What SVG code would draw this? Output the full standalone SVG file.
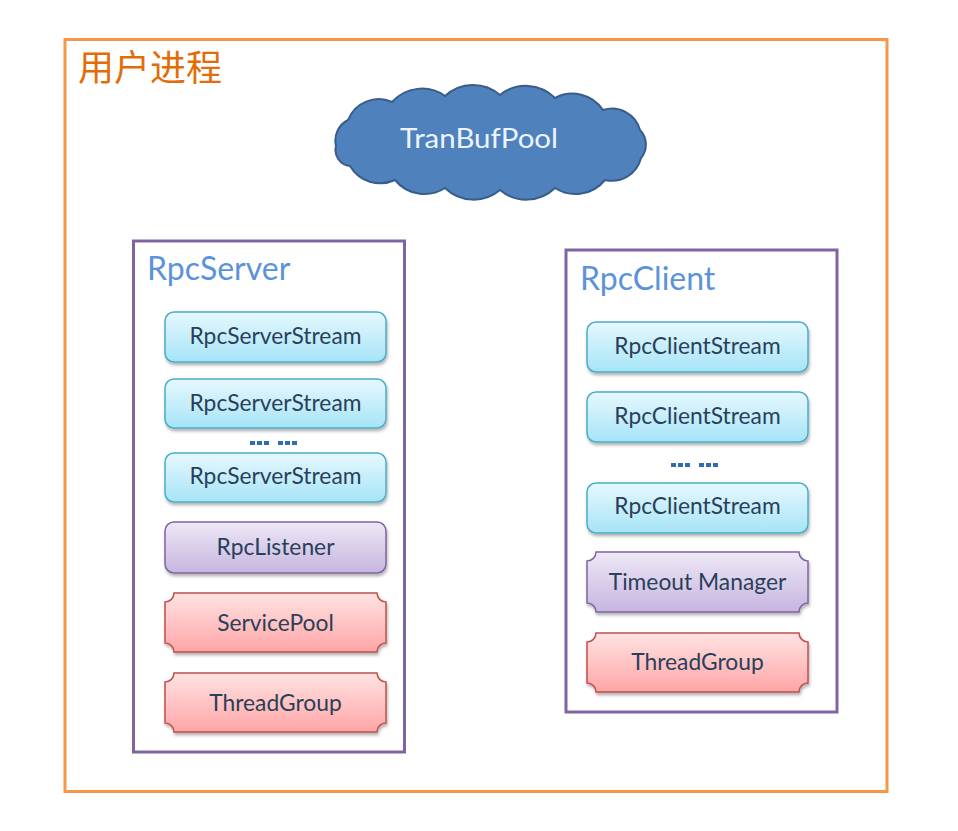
<svg xmlns="http://www.w3.org/2000/svg" width="958" height="831" viewBox="0 0 958 831">
<defs>
<linearGradient id="gCyan" x1="0" y1="0" x2="0" y2="1"><stop offset="0" stop-color="#E6F8FE"/><stop offset="1" stop-color="#A6E4F7"/></linearGradient>
<linearGradient id="gPurple" x1="0" y1="0" x2="0" y2="1"><stop offset="0" stop-color="#EEE8F6"/><stop offset="1" stop-color="#C6B5DF"/></linearGradient>
<linearGradient id="gRed" x1="0" y1="0" x2="0" y2="1"><stop offset="0" stop-color="#FFE3E3"/><stop offset="1" stop-color="#FFA5A5"/></linearGradient>
<filter id="sh" x="-10%" y="-20%" width="120%" height="150%"><feDropShadow dx="1" dy="2.5" stdDeviation="1.5" flood-color="#000" flood-opacity="0.3"/></filter>
</defs>
<style>
.item{font-family:Lato,"Open Sans",sans-serif;font-size:22.8px;fill:#2A3F5A;text-anchor:middle}
.cyan{fill:url(#gCyan);stroke:#4BACC6;stroke-width:1.5}
.purple{fill:url(#gPurple);stroke:#8064A2;stroke-width:1.5}
.red{fill:url(#gRed);stroke:#C0504D;stroke-width:1.5}
.box{fill:#FFFFFF;stroke:#8064A2;stroke-width:3}
.lbl{font-family:Lato,"Open Sans",sans-serif;font-size:32px;fill:#5B93DB}
.dots{fill:#2E6DB4}
</style>
<rect width="958" height="831" fill="#FFFFFF"/>
<g id="process">
<rect x="65" y="39.5" width="822" height="752" fill="#FFFFFF" stroke="#F79646" stroke-width="3"/>
<text x="78" y="81" font-family="'Noto Sans CJK SC',sans-serif" font-size="36" fill="#E36C09">用户进程</text>
</g>
<g id="tranbufpool">
<path d="M336,146 A23,23 0 0 1 348,120 A33,33 0 0 1 392,102 A40,40 0 0 1 445,96 A41,41 0 0 1 500,95 A41,41 0 0 1 555,98 A37,37 0 0 1 603,110 A29,29 0 0 1 640,130 A21,21 0 0 1 641,158 A30,30 0 0 1 605,180 A38,38 0 0 1 555,188 A41,41 0 0 1 500,190 A41,41 0 0 1 445,188 A38,38 0 0 1 395,180 A35,35 0 0 1 350,166 A16,16 0 0 1 336,146 Z" fill="#4F81BD" stroke="#385D8A" stroke-width="2"/>
<text x="479" y="148" font-family="Lato,'Open Sans',sans-serif" font-size="27" fill="#EEF4FF" text-anchor="middle" textLength="158" lengthAdjust="spacingAndGlyphs">TranBufPool</text>
</g>
<g id="rpcserver">
<rect class="box" x="133.5" y="241" width="271" height="511"/>
<text class="lbl" x="147" y="280">RpcServer</text>
</g>
<g id="rpcserverstream1"><rect class="cyan" filter="url(#sh)" x="165" y="312" width="221" height="50" rx="9"/><text class="item" x="275.5" y="344">RpcServerStream</text></g>
<g id="rpcserverstream2"><rect class="cyan" filter="url(#sh)" x="165" y="379" width="221" height="49" rx="9"/><text class="item" x="275.5" y="411">RpcServerStream</text></g>
<g id="server-dots"><rect class="dots" x="250" y="441" width="5" height="4"/><rect class="dots" x="257" y="441" width="5" height="4"/><rect class="dots" x="264" y="441" width="5" height="4"/><rect class="dots" x="278" y="441" width="5" height="4"/><rect class="dots" x="285" y="441" width="5" height="4"/><rect class="dots" x="292" y="441" width="5" height="4"/></g>
<g id="rpcserverstream3"><rect class="cyan" filter="url(#sh)" x="165" y="453" width="221" height="49" rx="9"/><text class="item" x="275.5" y="484">RpcServerStream</text></g>
<g id="rpclistener"><rect class="purple" filter="url(#sh)" x="165" y="522" width="221" height="51" rx="9"/><text class="item" x="275.5" y="555">RpcListener</text></g>
<g id="servicepool"><path class="red" filter="url(#sh)" d="M174,593 L377,593 A9,9 0 0 0 386,602 L386,643 A9,9 0 0 0 377,652 L174,652 A9,9 0 0 0 165,643 L165,602 A9,9 0 0 0 174,593 Z"/><text class="item" x="275.5" y="631">ServicePool</text></g>
<g id="threadgroup-server"><path class="red" filter="url(#sh)" d="M174,673 L377,673 A9,9 0 0 0 386,682 L386,723 A9,9 0 0 0 377,732 L174,732 A9,9 0 0 0 165,723 L165,682 A9,9 0 0 0 174,673 Z"/><text class="item" x="275.5" y="711">ThreadGroup</text></g>
<g id="rpcclient">
<rect class="box" x="566" y="250" width="271" height="462"/>
<text class="lbl" x="580" y="290">RpcClient</text>
</g>
<g id="rpcclientstream1"><rect class="cyan" filter="url(#sh)" x="587" y="322" width="221" height="50" rx="9"/><text class="item" x="697.5" y="354">RpcClientStream</text></g>
<g id="rpcclientstream2"><rect class="cyan" filter="url(#sh)" x="587" y="392" width="221" height="50" rx="9"/><text class="item" x="697.5" y="424">RpcClientStream</text></g>
<g id="client-dots"><rect class="dots" x="671" y="463" width="5" height="4"/><rect class="dots" x="678" y="463" width="5" height="4"/><rect class="dots" x="685" y="463" width="5" height="4"/><rect class="dots" x="699" y="463" width="5" height="4"/><rect class="dots" x="706" y="463" width="5" height="4"/><rect class="dots" x="713" y="463" width="5" height="4"/></g>
<g id="rpcclientstream3"><rect class="cyan" filter="url(#sh)" x="587" y="483" width="221" height="50" rx="9"/><text class="item" x="697.5" y="514">RpcClientStream</text></g>
<g id="timeoutmanager"><path class="purple" filter="url(#sh)" d="M596,552 L799,552 A9,9 0 0 0 808,561 L808,603 A9,9 0 0 0 799,612 L596,612 A9,9 0 0 0 587,603 L587,561 A9,9 0 0 0 596,552 Z"/><text class="item" x="697.5" y="590">Timeout Manager</text></g>
<g id="threadgroup-client"><path class="red" filter="url(#sh)" d="M596,633 L799,633 A9,9 0 0 0 808,642 L808,683 A9,9 0 0 0 799,692 L596,692 A9,9 0 0 0 587,683 L587,642 A9,9 0 0 0 596,633 Z"/><text class="item" x="697.5" y="670">ThreadGroup</text></g>
</svg>
